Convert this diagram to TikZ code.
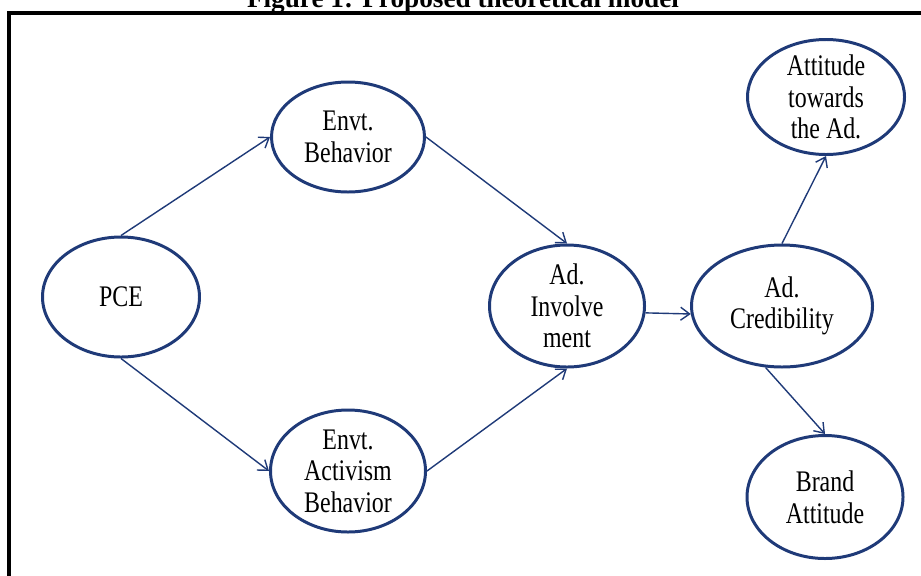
\documentclass[tikz,border=0pt]{standalone}
\usepackage{fontspec}
\setmainfont{Liberation Serif}
\newfontfamily\elipsefont{Liberation Serif}[FakeStretch=0.8]
\usepackage{xcolor}
\usepackage{tikz}
\usetikzlibrary{shapes.geometric, arrows.meta}
\definecolor{azulm}{HTML}{1F3A78}

\begin{document}
\begin{tikzpicture}[
    x=0.2mm, y=-0.2mm,
    elipse/.style={ellipse, draw=azulm, line width=1.7pt, align=center, inner xsep=0pt, inner ysep=-6pt, font=\elipsefont\fontsize{17}{18}\selectfont},
    flecha/.style={-{Straight Barb[length=1.8mm,width=2.6mm]}, line width=0.8pt, azulm}
]

\clip (0,0) rectangle (921,575);

\node (titulo) [anchor=base, font=\bfseries\fontsize{15.5}{18}\selectfont] at (463,7) {Figure 1: Proposed theoretical model};
\draw [line width=2pt] (9,700) -- (9,13) -- (1000,13);

\node (pce) [elipse, minimum width=3.14cm, minimum height=2.4cm] at (121,297) {PCE};

\node (envb) [elipse, minimum width=3.06cm, minimum height=2.2cm] at (348,137) {Envt.\\Behavior};

\node (enva) [elipse, minimum width=3.1cm, minimum height=2.44cm] at (348,471) {Envt.\\Activism\\Behavior};

\node (adinv) [elipse, minimum width=3.1cm, minimum height=2.44cm] at (567,306) {Ad.\\Involve\\ment};

\node (adcred) [elipse, minimum width=3.62cm, minimum height=2.44cm] at (782,306) {Ad.\\Credibility};

\node (actitud) [elipse, minimum width=3.14cm, minimum height=2.3cm] at (826,97) {Attitude\\towards\\the Ad.};

\node (marca) [elipse, minimum width=3.12cm, minimum height=2.46cm] at (825,497) {Brand\\Attitude};

\draw [flecha] (pce.north) -- (envb.west);
\draw [flecha] (pce.south) -- (enva.west);
\draw [flecha] (envb.east) -- (adinv.north);
\draw [flecha] (enva.east) -- (adinv.south);
\draw [flecha] (adinv.-5) -- (adcred.185);
\draw [flecha] (adcred.north) -- (actitud.south);
\draw [flecha] (adcred.255) -- (marca.north);

\end{tikzpicture}
\end{document}
